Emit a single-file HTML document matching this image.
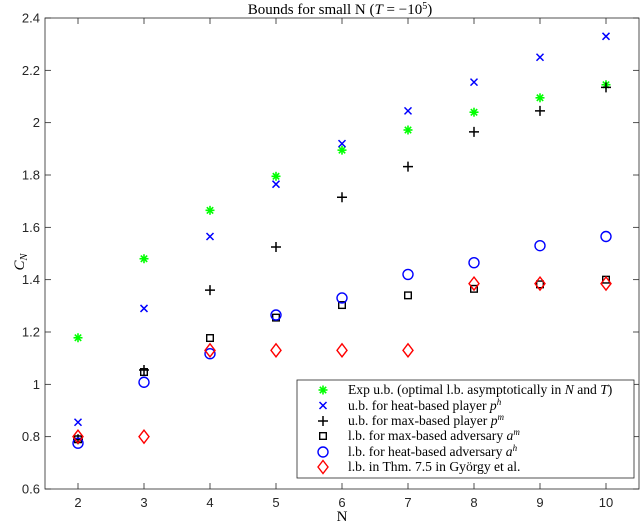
<!DOCTYPE html>
<html><head><meta charset="utf-8"><style>
body{margin:0;background:#fff}
svg{display:block}
.tk{font-family:"Liberation Sans",sans-serif;font-size:13px;fill:#262626}
.sr{font-family:"Liberation Serif",serif;font-size:13.5px;fill:#000}
</style></head><body>
<svg id="c" width="640" height="526" xmlns="http://www.w3.org/2000/svg"></svg>
<script>
const categories=[2,3,4,5,6,7,8,9,10];
const expUB=[1.178,1.48,1.665,1.795,1.895,1.972,2.04,2.095,2.145];
const heatUB=[0.855,1.29,1.565,1.765,1.92,2.045,2.155,2.25,2.33];
const maxUB=[0.79,1.055,1.36,1.525,1.715,1.832,1.965,2.045,2.135];
const maxLB=[0.79,1.047,1.177,1.255,1.303,1.34,1.365,1.382,1.4];
const heatLB=[0.775,1.008,1.117,1.265,1.33,1.42,1.465,1.53,1.565];
const gyorgyLB=[0.8,0.8,1.13,1.13,1.13,1.13,1.385,1.385,1.385];
const yTicks=[0.6,0.8,1,1.2,1.4,1.6,1.8,2,2.2,2.4];
const yTickLabels=["0.6","0.8","1","1.2","1.4","1.6","1.8","2","2.2","2.4"];

const NS="http://www.w3.org/2000/svg",svg=document.getElementById('c');
const L=45,R=639,T=18,B=489;
const xs=v=>L+(v-1.5)/9*(R-L);
const ys=v=>B-(v-0.6)/1.8*(B-T);
function mk(tag,at,parent){const e=document.createElementNS(NS,tag);for(const k in at)e.setAttribute(k,at[k]);(parent||svg).appendChild(e);return e;}
const axes=mk('g',{});


mk('rect',{x:L,y:T,width:R-L,height:B-T,fill:'none',stroke:'#262626','stroke-width':0.8},axes);
categories.forEach(c=>{const x=xs(c);
 mk('line',{x1:x,x2:x,y1:B,y2:B-6,stroke:'#262626','stroke-width':0.8},axes);
 mk('line',{x1:x,x2:x,y1:T,y2:T+6,stroke:'#262626','stroke-width':0.8},axes);
 const t=mk('text',{x:x,y:B+18,'text-anchor':'middle',class:'tk'},axes);t.textContent=c;
 
 });
yTicks.forEach((v,i)=>{const y=ys(v);
 mk('line',{x1:L,x2:L+6,y1:y,y2:y,stroke:'#262626','stroke-width':0.8},axes);
 mk('line',{x1:R,x2:R-6,y1:y,y2:y,stroke:'#262626','stroke-width':0.8},axes);
 const t=mk('text',{x:L-5,y:y+4.5,'text-anchor':'end',class:'tk'},axes);t.textContent=yTickLabels[i];
 
 });
function marker(type,x,y,g){
 if(type==='star'){for(let a=0;a<4;a++){const an=a*Math.PI/4,dx=4.5*Math.cos(an),dy=4.5*Math.sin(an);mk('line',{x1:x-dx,y1:y-dy,x2:x+dx,y2:y+dy,stroke:'#00ff00','stroke-width':1.6},g);}}
 else if(type==='x'){mk('path',{d:`M${x-3.5},${y-3.5}L${x+3.5},${y+3.5}M${x-3.5},${y+3.5}L${x+3.5},${y-3.5}`,stroke:'#0000ff','stroke-width':1.5},g);}
 else if(type==='plus'){mk('path',{d:`M${x-5},${y}L${x+5},${y}M${x},${y-5}L${x},${y+5}`,stroke:'#000','stroke-width':1.5},g);}
 else if(type==='sq'){mk('rect',{x:x-3.3,y:y-3.3,width:6.6,height:6.6,fill:'none',stroke:'#000','stroke-width':1.4},g);}
 else if(type==='circ'){mk('circle',{cx:x,cy:y,r:5,fill:'none',stroke:'#0000ff','stroke-width':1.4},g);}
 else if(type==='dia'){mk('path',{d:`M${x},${y-6.5}L${x+5},${y}L${x},${y+6.5}L${x-5},${y}Z`,fill:'none',stroke:'#ff0000','stroke-width':1.4},g);}
}
const series=[[expUB,'star','exp-ub'],[heatUB,'x','heat-player-ub'],[maxUB,'plus','max-player-ub'],[maxLB,'sq','max-adversary-lb'],[heatLB,'circ','heat-adversary-lb'],[gyorgyLB,'dia','gyorgy-lb']];
series.forEach(([vals,type,name])=>{const g=mk('g',{});
 
 
 vals.forEach((v,i)=>marker(type,xs(categories[i]),ys(v),g));});
</script>
<svg style="position:absolute;left:0;top:0" width="640" height="526" xmlns="http://www.w3.org/2000/svg">
<text class="sr" x="340" y="14" style="font-size:15px" text-anchor="middle">Bounds for small N (<tspan font-style="italic">T</tspan> = −10<tspan style="font-size:10px" dy="-5">5</tspan><tspan dy="5">)</tspan></text>
<text class="sr" x="342" y="521" style="font-size:15px" text-anchor="middle">N</text>
<text class="sr" style="font-size:15px" transform="translate(24,262) rotate(-90)" text-anchor="middle"><tspan font-style="italic">C</tspan><tspan font-style="italic" style="font-size:10.5px" dy="3">N</tspan></text>
<g>
<rect x="297" y="380" width="337" height="98" fill="#fff" stroke="#262626" stroke-width="0.8"/>
<g stroke="#00ff00" stroke-width="1.6"><line x1="318.5" y1="390" x2="327.5" y2="390"/><line x1="323" y1="385.5" x2="323" y2="394.5"/><line x1="319.8" y1="386.8" x2="326.2" y2="393.2"/><line x1="319.8" y1="393.2" x2="326.2" y2="386.8"/></g>
<path d="M319.5,402L326.5,409M319.5,409L326.5,402" stroke="#0000ff" stroke-width="1.5"/>
<path d="M318,421H328M323,416V426" stroke="#000" stroke-width="1.5"/>
<rect x="319.7" y="432.7" width="6.6" height="6.6" fill="none" stroke="#000" stroke-width="1.4"/>
<circle cx="323" cy="452" r="5" fill="none" stroke="#0000ff" stroke-width="1.4"/>
<path d="M323,460.5L328,467L323,473.5L318,467Z" fill="none" stroke="#ff0000" stroke-width="1.4"/>
<g style="font-family:'Liberation Serif',serif;font-size:13.6px">
<text x="348" y="394">Exp u.b. (optimal l.b. asymptotically in <tspan font-style="italic">N</tspan> and <tspan font-style="italic">T</tspan>)</text>
<text x="348" y="410">u.b. for heat-based player <tspan font-style="italic">p</tspan><tspan font-style="italic" style="font-size:9px" dy="-5">h</tspan></text>
<text x="348" y="425">u.b. for max-based player <tspan font-style="italic">p</tspan><tspan font-style="italic" style="font-size:9px" dy="-5">m</tspan></text>
<text x="348" y="440">l.b. for max-based adversary <tspan font-style="italic">a</tspan><tspan font-style="italic" style="font-size:9px" dy="-5">m</tspan></text>
<text x="348" y="456">l.b. for heat-based adversary <tspan font-style="italic">a</tspan><tspan font-style="italic" style="font-size:9px" dy="-5">h</tspan></text>
<text x="348" y="471">l.b. in Thm. 7.5 in György et al.</text>
</g></g>
</svg>
</body></html>
